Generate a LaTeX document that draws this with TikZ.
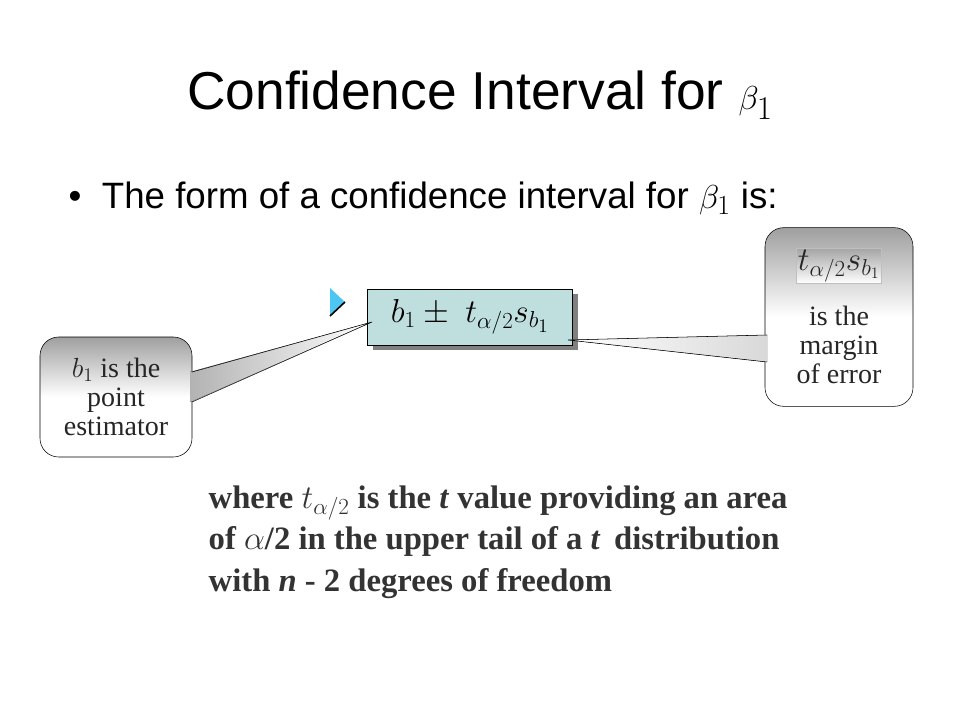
\documentclass[tikz,border=0pt]{standalone}
\usepackage{fontspec}
\setmainfont{Liberation Serif}
\newfontfamily\arialf{Liberation Sans}
\usetikzlibrary{shadows}
\begin{document}
\begin{tikzpicture}[x=0.75pt,y=-0.75pt,
  callout/.style={draw=black,rounded corners=14pt,top color=gray!75,bottom color=white,middle color=white},
  ser/.style={font=\fontsize{21}{22}\selectfont,align=center,text=black!85}]
\useasboundingbox (0,0) rectangle (960,720);
\node[font=\arialf\fontsize{40}{46}\selectfont] (title) at (480,95) {Confidence Interval for $\beta_1$};
\node[font=\arialf\fontsize{27.5}{32}\selectfont,anchor=west] (bul) at (64,198) {\textbullet\ \ The form of a confidence interval for $\beta_1$ is:};
% triangle
\fill[cyan!70] (330,288) -- (345,302) -- (330,316) -- cycle;
\draw[line width=1.2pt] (345,302) -- (330,316);
% main box
\node[draw,fill=teal!25,minimum width=154pt,minimum height=42pt,drop shadow={shadow xshift=4pt,shadow yshift=-4pt,fill=gray,opacity=1},font=\fontsize{27}{30}\selectfont] (box) at (470,317) {$b_1\pm\ t_{\alpha/2}s_{b_1}$};
\coordinate (pl) at (372,322);
\coordinate (pr) at (568,340);
% left callout
\node[callout,minimum width=114pt,minimum height=90pt] (lc) at (116,397) {};
\fill[left color=gray!60,right color=white] (190,372) -- (pl) -- (190,402) -- cycle;
\draw (192,372) -- (pl) -- (192,402);
\node[ser] (lct) at (116,397) {$b_1$ is the\\point\\estimator};
% right callout
\node[callout,minimum width=111pt,minimum height=134pt] (rc) at (839,317) {};
\fill[left color=white,right color=gray!30] (pr) -- (767,335) -- (767,362) -- cycle;
\draw (767,335) -- (pr) -- (767,362);
\node[ser,inner sep=1pt,top color=gray!70,bottom color=white,draw=gray!50] (rct) at (839,266) {\fontsize{24}{26}\selectfont$t_{\alpha/2}s_{b_1}$};
\node[ser] (rct2) at (839,345) {is the\\margin\\of error};
% bottom text
\node[anchor=north west,align=left,font=\bfseries\fontsize{24.5}{31}\selectfont,text=black!80] (txt) at (204,481)
{where $t_{\alpha/2}$ is the \textit{t} value providing an area\\
of $\alpha$/2 in the upper tail of a \textit{t}\, distribution\\
with \textit{n} - 2 degrees of freedom};
\end{tikzpicture}
\end{document}
